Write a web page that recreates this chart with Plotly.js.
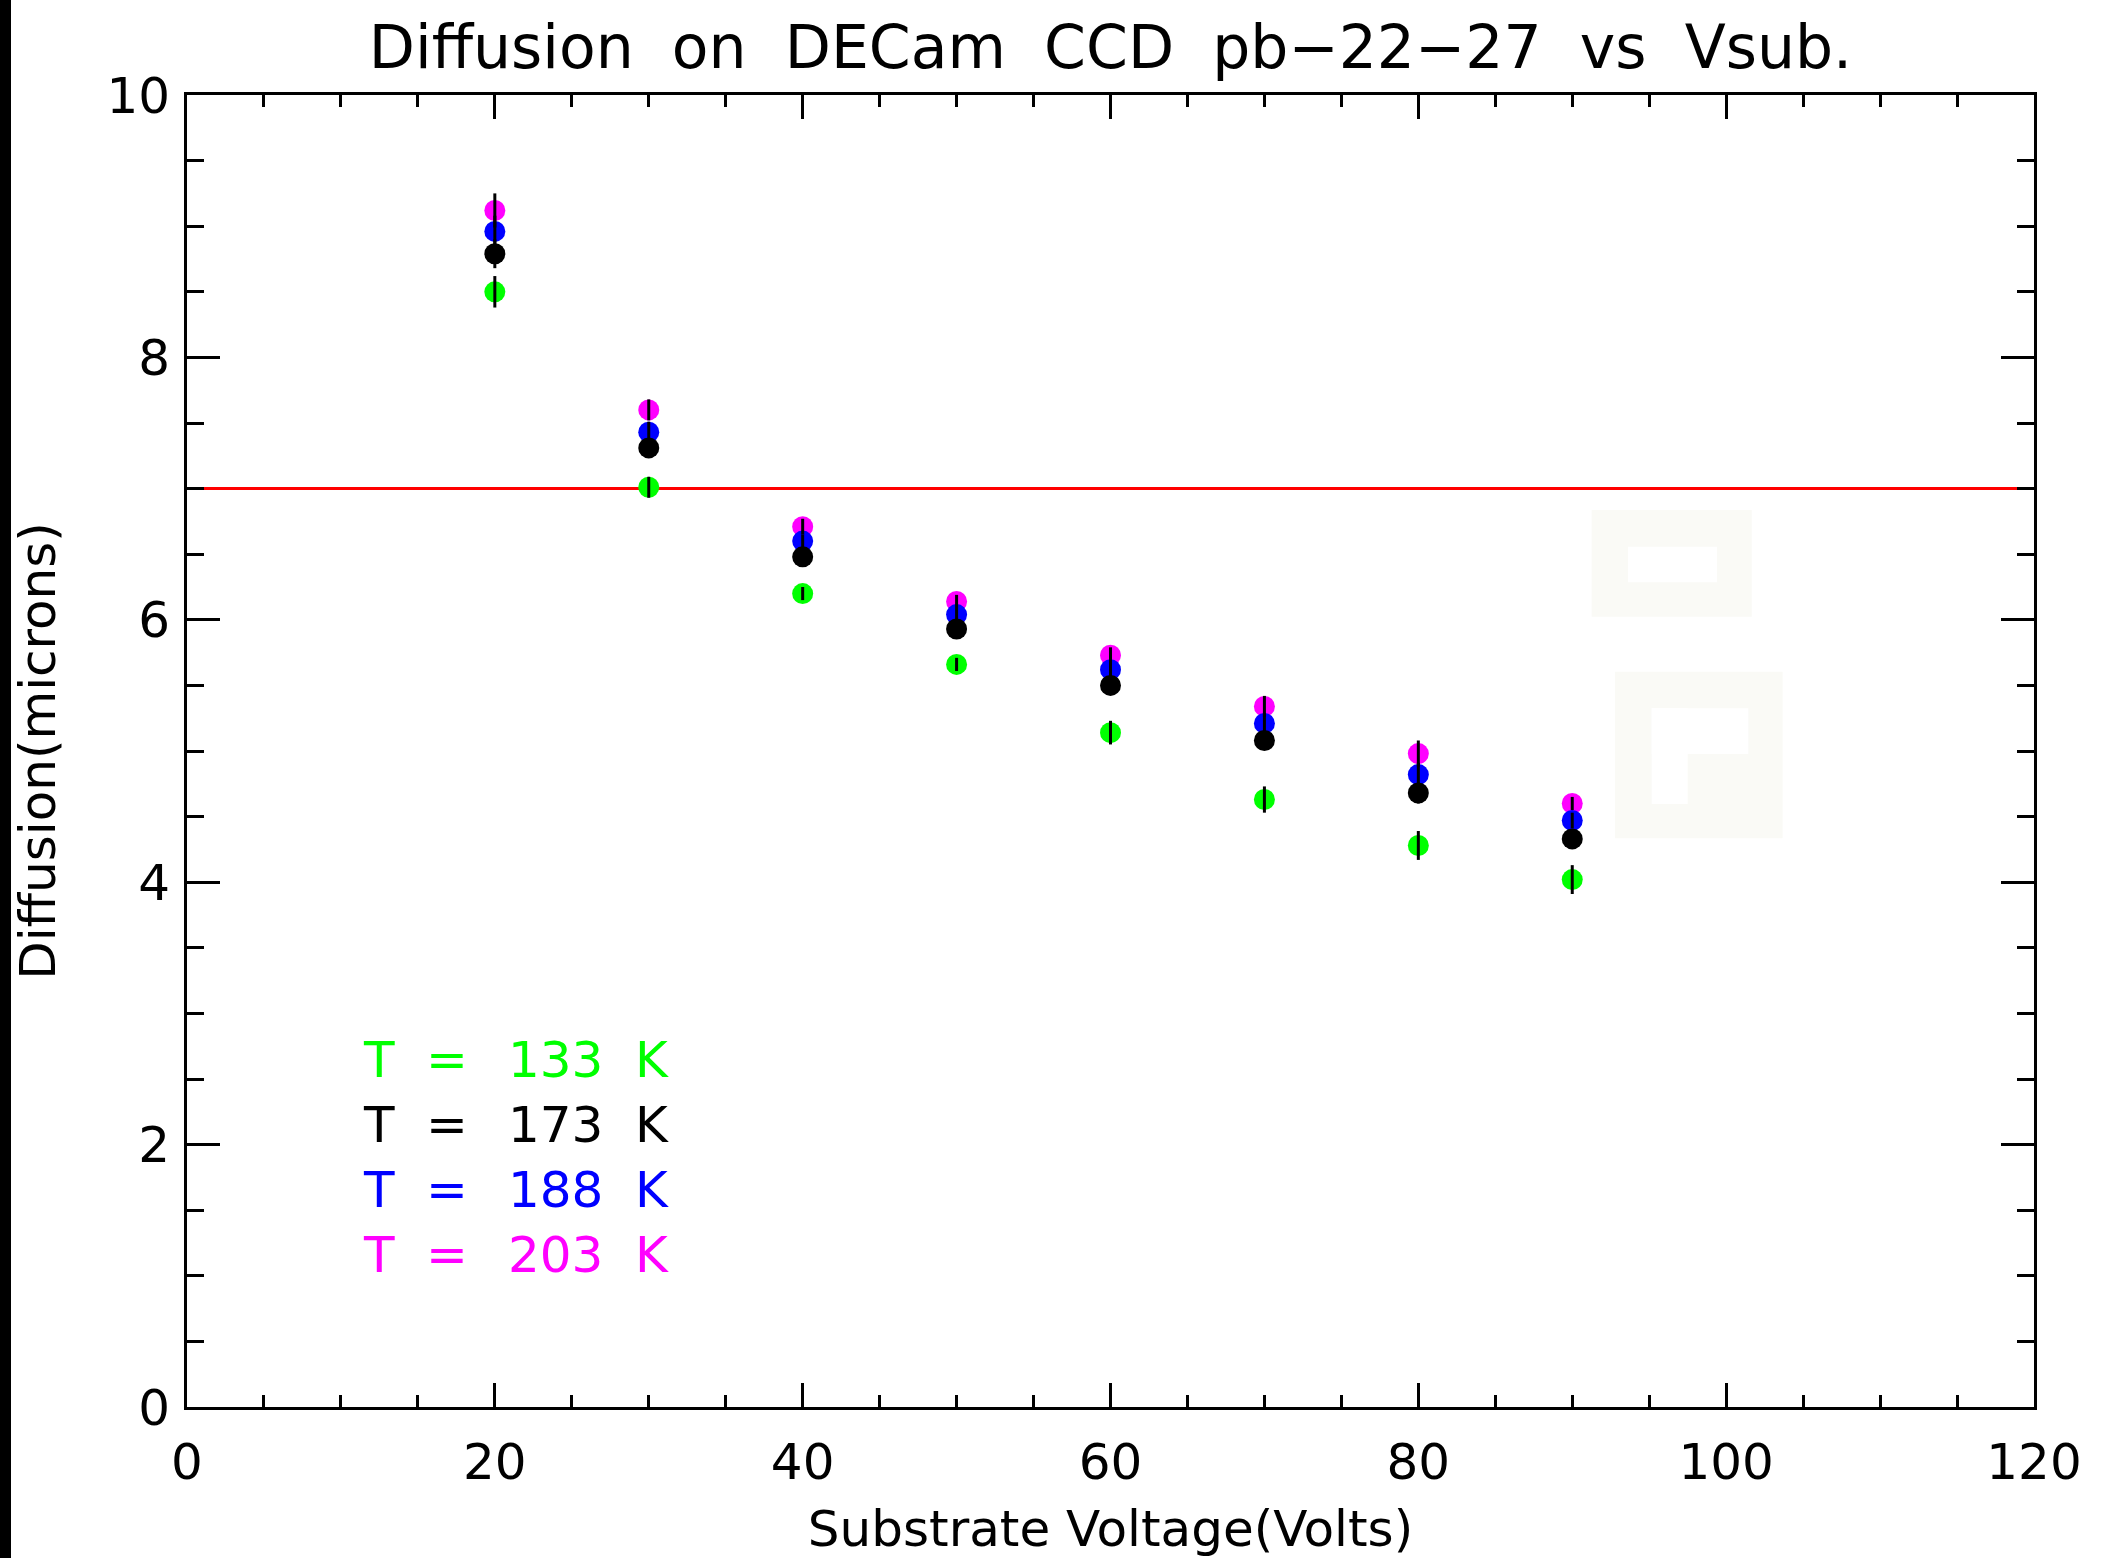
<!DOCTYPE html>
<html>
<head>
<meta charset="utf-8">
<script src="https://cdn.plot.ly/plotly-3.0.1.min.js"></script>
<style>
  html, body { margin: 0; padding: 0; background: #ffffff; }
  #chart { width: 2102px; height: 1558px; }
</style>
</head>
<body>
<div id="chart"></div>
<script>
// ---- data ----
const voltage = [20, 30, 40, 50, 60, 70, 80, 90];
const temps = [133, 173, 188, 203];
const diff133 = [8.50, 7.01, 6.20, 5.66, 5.14, 4.63, 4.28, 4.02];
const diff173 = [8.79, 7.31, 6.48, 5.93, 5.50, 5.08, 4.68, 4.33];
const diff188 = [8.96, 7.43, 6.60, 6.04, 5.62, 5.21, 4.82, 4.47];
const diff203 = [9.12, 7.60, 6.71, 6.14, 5.73, 5.34, 4.98, 4.60];
const err133 = [0.12, 0.08, 0.05, 0.05, 0.09, 0.10, 0.11, 0.11];
const err173 = [0.11, 0.07, 0.05, 0.05, 0.05, 0.07, 0.08, 0.06];
const err188 = [0.12, 0.08, 0.05, 0.05, 0.06, 0.08, 0.09, 0.06];
const err203 = [0.13, 0.08, 0.06, 0.05, 0.06, 0.08, 0.10, 0.05];
const seriesColors = ['#00ff00', '#000000', '#0000ff', '#ff00ff'];
const threshold = 7;
const titleText = 'Diffusion on DECam CCD pb\u221222\u221227 vs Vsub.';
const xTitle = 'Substrate Voltage(Volts)';
const yTitle = 'Diffusion(microns)';
const xTickVals = [0, 20, 40, 60, 80, 100, 120];
const yTickVals = [0, 2, 4, 6, 8, 10];

// ---- layout helpers ----
const FONT = 'DejaVu Sans, Liberation Sans, sans-serif';
const W = 2102, H = 1558;
const M = {l: 187, r: 68, t: 95, b: 151, pad: 0};
const plotW = W - M.l - M.r, plotH = H - M.t - M.b;

const diffs = [diff133, diff173, diff188, diff203];
const errs = [err133, err173, err188, err203];

const traces = [];
// markers: draw from highest temp to lowest
for (let i = temps.length - 1; i >= 0; i--) {
  traces.push({
    type: 'scatter', mode: 'markers',
    x: voltage, y: diffs[i],
    name: 'T = ' + temps[i] + ' K',
    marker: {color: seriesColors[i], size: 21, line: {width: 0}},
    showlegend: false, hoverinfo: 'x+y'
  });
}
// black error bars drawn on top of markers
for (let i = 0; i < temps.length; i++) {
  traces.push({
    type: 'scatter', mode: 'markers',
    x: voltage, y: diffs[i],
    marker: {color: 'rgba(0,0,0,0)', size: 1},
    error_y: {type: 'data', array: errs[i], visible: true, color: '#000000', thickness: 3, width: 0},
    showlegend: false, hoverinfo: 'skip'
  });
}

// legend as coloured text rows
const annotations = [];
const rowY = [2.645, 2.149, 1.654, 1.159];
for (let i = 0; i < temps.length; i++) {
  const f = {family: FONT, size: 50, color: seriesColors[i]};
  annotations.push({x: 12.5, y: rowY[i], xref: 'x', yref: 'y', text: 'T', showarrow: false, xanchor: 'center', yanchor: 'middle', font: f});
  annotations.push({x: 16.86, y: rowY[i], xref: 'x', yref: 'y', text: '=', showarrow: false, xanchor: 'center', yanchor: 'middle', font: f});
  annotations.push({x: 23.91, y: rowY[i], xref: 'x', yref: 'y', text: String(temps[i]), showarrow: false, xanchor: 'center', yanchor: 'middle', font: f});
  annotations.push({x: 30.21, y: rowY[i], xref: 'x', yref: 'y', text: 'K', showarrow: false, xanchor: 'center', yanchor: 'middle', font: f});
}

const faint = '#fafaf6';
const shapes = [
  // black strip at the left edge of the image
  {type: 'rect', xref: 'paper', yref: 'paper', x0: -M.l / plotW, x1: (11 - M.l) / plotW,
   y0: -M.b / plotH, y1: 1 + M.t / plotH, fillcolor: '#000000', line: {width: 0}, layer: 'above'},
  // faint artefact boxes
  {type: 'rect', xref: 'x', yref: 'y', x0: 91.26, x1: 101.66, y0: 6.024, y1: 6.837, fillcolor: faint, line: {width: 0}, layer: 'below'},
  {type: 'rect', xref: 'x', yref: 'y', x0: 93.62, x1: 99.40, y0: 6.286, y1: 6.557, fillcolor: '#ffffff', line: {width: 0}, layer: 'below'},
  {type: 'rect', xref: 'x', yref: 'y', x0: 92.78, x1: 103.67, y0: 4.335, y1: 5.604, fillcolor: faint, line: {width: 0}, layer: 'below'},
  {type: 'rect', xref: 'x', yref: 'y', x0: 95.16, x1: 101.44, y0: 4.977, y1: 5.325, fillcolor: '#ffffff', line: {width: 0}, layer: 'below'},
  {type: 'rect', xref: 'x', yref: 'y', x0: 95.16, x1: 97.50, y0: 4.596, y1: 5.325, fillcolor: '#ffffff', line: {width: 0}, layer: 'below'},
  // red reference line
  {type: 'line', xref: 'paper', yref: 'y', x0: 0, x1: 1, y0: threshold, y1: threshold,
   line: {color: '#ff0000', width: 3}, layer: 'below'}
];

const layout = {
  width: W, height: H,
  margin: M,
  paper_bgcolor: '#ffffff', plot_bgcolor: '#ffffff',
  font: {family: FONT, color: '#000000', size: 50},
  showlegend: false,
  title: {
    text: titleText.replace(/ /g, '\u00a0 '),
    font: {family: FONT, size: 60, color: '#000000'},
    x: 0.5, xref: 'paper', xanchor: 'center',
    y: 1 - 47 / H, yref: 'container', yanchor: 'middle'
  },
  xaxis: {
    range: [0, 120], tickvals: xTickVals, ticktext: xTickVals.map(String),
    ticks: 'inside', ticklen: 24, tickwidth: 3, tickcolor: '#000000',
    minor: {dtick: 5, tick0: 0, ticks: 'inside', ticklen: 12, tickwidth: 3, tickcolor: '#000000'},
    showline: true, linewidth: 3, linecolor: '#000000', mirror: 'ticks',
    showgrid: false, zeroline: false,
    tickfont: {family: FONT, size: 50, color: '#000000'},
    ticklabelstandoff: 9,
    title: {text: xTitle, font: {family: FONT, size: 50, color: '#000000'}, standoff: 21}
  },
  yaxis: {
    range: [0, 10], tickvals: yTickVals, ticktext: yTickVals.map(String),
    ticks: 'inside', ticklen: 33, tickwidth: 3, tickcolor: '#000000',
    minor: {dtick: 0.5, tick0: 0, ticks: 'inside', ticklen: 17, tickwidth: 3, tickcolor: '#000000'},
    showline: true, linewidth: 3, linecolor: '#000000', mirror: 'ticks',
    showgrid: false, zeroline: false,
    tickfont: {family: FONT, size: 50, color: '#000000'},
    ticklabelstandoff: 4,
    title: {text: yTitle, font: {family: FONT, size: 50, color: '#000000'}, standoff: 35}
  },
  shapes: shapes,
  annotations: annotations
};

Plotly.newPlot('chart', traces, layout, {displayModeBar: false, staticPlot: true});
</script>
</body>
</html>
